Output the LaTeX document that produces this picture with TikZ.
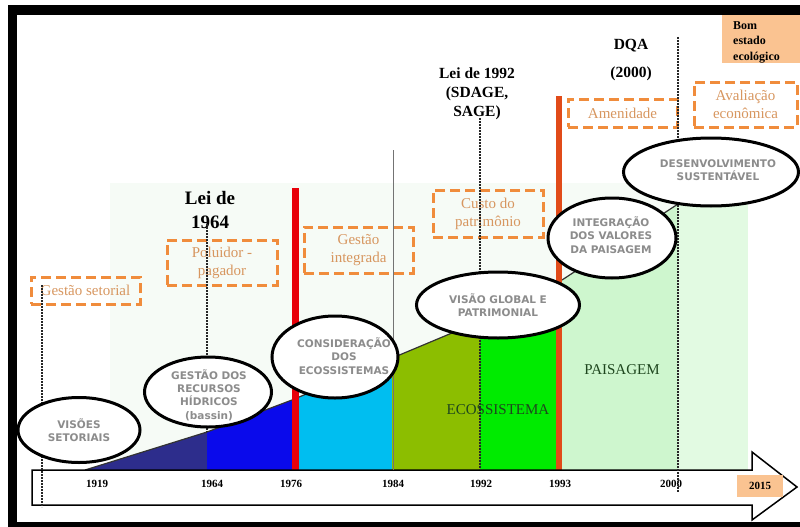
\documentclass[tikz,border=0pt]{standalone}
\usepackage{fontspec}
\setmainfont{Liberation Serif}
\newfontfamily\vfont{DejaVu Sans}
\usetikzlibrary{shapes.geometric}
\definecolor{navyc}{RGB}{45,45,140}
\definecolor{bluec}{RGB}{10,10,235}
\definecolor{cyanc}{RGB}{0,190,240}
\definecolor{olivec}{RGB}{140,190,0}
\definecolor{greenc}{RGB}{0,235,0}
\definecolor{paisc}{RGB}{206,246,206}
\definecolor{palec}{RGB}{226,250,226}
\definecolor{faintc}{RGB}{246,251,246}
\definecolor{redc}{RGB}{232,0,10}
\definecolor{orredc}{RGB}{225,75,25}
\definecolor{boxorange}{RGB}{240,140,60}
\definecolor{textorange}{RGB}{215,150,95}
\definecolor{peach}{RGB}{250,195,145}
\definecolor{bubblegray}{RGB}{140,140,140}
\definecolor{darkgreen}{RGB}{30,70,30}
\begin{document}
\begin{tikzpicture}[x=1pt,y=-1pt,
  bubble/.style={ellipse, draw=black, line width=3, fill=white, inner sep=0},
  btext/.style={font=\vfont\bfseries\fontsize{10.5}{13.3}\selectfont, text=bubblegray, align=center, inner sep=0},
  obox/.style={draw=boxorange, line width=3, dash pattern=on 10pt off 5pt, inner sep=0, font=\fontsize{15}{18}\selectfont, text=textorange, align=center},
  vline/.style={line width=1.2, dash pattern=on 2pt off 1pt, draw=black!85},
  yearlbl/.style={font=\bfseries\fontsize{11}{13}\selectfont, inner sep=0},
  heading/.style={font=\bfseries\fontsize{15.5}{19}\selectfont, align=center, inner sep=0},
  bandlbl/.style={font=\fontsize{15}{18}\selectfont, text=darkgreen, inner sep=0}]
\useasboundingbox (0,0) rectangle (800,527);
% frame
\fill[black] (8,5) rectangle (800,15);
\fill[black] (8,5) rectangle (17,527);
\fill[black] (8,522) rectangle (800,527);
% backgrounds
\fill[faintc] (110,183) rectangle (748,470);
\fill[palec] (678,203) rectangle (748,470);
\fill[paisc] (562,470) -- (562,280) -- (678,204) -- (678,470) -- cycle;
% area chart
\fill[navyc] (85,470) -- (207,432) -- (207,470) -- cycle;
\fill[bluec] (207,470) -- (207,432) -- (292,400) -- (292,470) -- cycle;
\fill[cyanc] (292,470) -- (292,400) -- (392,358) -- (392,470) -- cycle;
\fill[olivec] (392,470) -- (392,358) -- (480,321) -- (480,470) -- cycle;
\fill[greenc] (480,470) -- (480,321) -- (557,289) -- (557,470) -- cycle;
\draw[line width=1.2, black!80] (85,470) -- (207,432) -- (292,400) -- (557,289);
\draw[line width=1.2, black!80] (562,280) -- (678,204);
% red lines
\fill[redc] (292,188) rectangle (299,470);
\fill[orredc] (556,96) rectangle (562,470);
% axis arrow
\draw[line width=1.5, fill=white] (32,470) -- (752,470) -- (752,452) -- (797,487) -- (752,520) -- (752,505) -- (32,505) -- cycle;
\node[yearlbl] (y1919) at (97,484) {1919};
\node[yearlbl] (y1964) at (212,484) {1964};
\node[yearlbl] (y1976) at (291,484) {1976};
\node[yearlbl] (y1984) at (393,484) {1984};
\node[yearlbl] (y1992) at (481,484) {1992};
\node[yearlbl] (y1993) at (560,484) {1993};
\node[yearlbl] (y2000) at (671,484) {2000};
\node[yearlbl, fill=peach, minimum width=46, minimum height=22] (y2015) at (760,486) {2015};
% headings
\node[heading, font=\bfseries\fontsize{19}{24}\selectfont] (lei64) at (210,210) {Lei de\\1964};
\node[heading] (lei92) at (477,94) {Lei de 1992\\(SDAGE,\\SAGE)};
\node[heading, font=\bfseries\fontsize{15.5}{28}\selectfont] (dqa) at (631,60) {DQA\\(2000)};
\node[fill=peach, minimum width=78, minimum height=48, inner sep=0] (bomb) at (761,39) {};
\node[font=\bfseries\fontsize{12}{15.5}\selectfont, align=left, inner sep=0, anchor=west] (bom) at (733,42) {Bom\\estado\\ecológico};
% dashed boxes
\node[obox, minimum width=109, minimum height=27] (b1) at (85.5,290.5) {Gestão setorial};
\node[obox, minimum width=110, minimum height=45] (b2) at (222,262.5) {Poluidor -\\pagador};
\node[obox, minimum width=109, minimum height=46] (b3) at (358.5,250) {Gestão\\integrada};
\node[obox, minimum width=110, minimum height=47] (b4) at (488,213.5) {Custo do\\patrimônio};
\node[obox, minimum width=109, minimum height=28] (b5) at (622.5,113) {Amenidade};
\node[obox, minimum width=103, minimum height=45] (b6) at (745.5,104.5) {Avaliação\\econômica};
% vertical lines
\coordinate (t1919) at (42,285); \coordinate (e1919) at (42,507);
\coordinate (t1964) at (207,224); \coordinate (e1964) at (207,432);
\coordinate (t1984) at (393,150); \coordinate (e1984) at (393,470);
\coordinate (t1992) at (480,118); \coordinate (e1992) at (480,470);
\coordinate (t2000) at (678,37); \coordinate (e2000) at (678,492);
\draw[vline] (t1919) -- (e1919);
\draw[vline] (t1964) -- (e1964);
\draw[line width=1, black!55] (t1984) -- (e1984);
\draw[vline] (t1992) -- (e1992);
\draw[vline] (t2000) -- (e2000);
% bubbles
\node[bubble, minimum width=122, minimum height=65] (e1) at (79,430) {};
\node[btext] (e1t) at (e1) {VISÕES\\SETORIAIS};
\node[bubble, minimum width=127, minimum height=70] (e2) at (208,392) {};
\node[btext] (e2t) at (209,395) {GESTÃO DOS\\RECURSOS\\HÍDRICOS\\(bassin)};
\node[bubble, minimum width=126, minimum height=82] (e3) at (335,357) {};
\node[btext] (e3t) at (344,356) {CONSIDERAÇÃO\\DOS\\ECOSSISTEMAS};
\node[bubble, minimum width=163, minimum height=66] (e4) at (498,305) {};
\node[btext] (e4t) at (498,305) {VISÃO GLOBAL E\\PATRIMONIAL};
\node[bubble, minimum width=128, minimum height=80] (e5) at (612,238) {};
\node[btext] (e5t) at (611,235) {INTEGRAÇÃO\\DOS VALORES\\DA PAISAGEM};
\node[bubble, minimum width=175, minimum height=68] (e6) at (711,172) {};
\node[btext] (e6t) at (718,170) {DESENVOLVIMENTO\\SUSTENTÁVEL};
% band labels
\node[bandlbl] (eco) at (498,410) {ECOSSISTEMA};
\node[bandlbl] (pais) at (622,370) {PAISAGEM};
\end{tikzpicture}
\end{document}
